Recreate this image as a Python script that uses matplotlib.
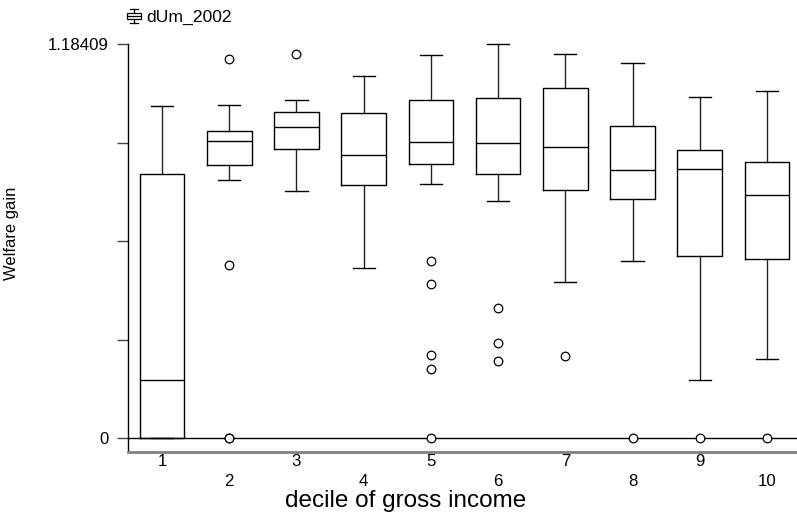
import matplotlib
matplotlib.use('Agg')
import numpy as np
import matplotlib.pyplot as plt
from matplotlib.legend_handler import HandlerBase
from matplotlib.lines import Line2D
from matplotlib.patches import Rectangle, Patch

plt.rcParams['font.family'] = ['Liberation Sans', 'DejaVu Sans']

# ---------------- data ----------------
deciles = ['1', '2', '3', '4', '5', '6', '7', '8', '9', '10']
whislo = [0.000, 0.777, 0.743, 0.511, 0.765, 0.712, 0.470, 0.533, 0.174, 0.238]
q1     = [0.000, 0.822, 0.870, 0.760, 0.825, 0.795, 0.747, 0.718, 0.546, 0.537]
med    = [0.176, 0.893, 0.934, 0.852, 0.889, 0.886, 0.874, 0.805, 0.809, 0.731]
q3     = [0.795, 0.922, 0.979, 0.976, 1.017, 1.023, 1.051, 0.937, 0.867, 0.829]
whishi = [0.997, 1.002, 1.017, 1.087, 1.150, 1.184, 1.154, 1.128, 1.024, 1.043]
fliers = [
    [],
    [1.139, 0.520, 0.0, 0.0],
    [1.153],
    [],
    [0.532, 0.464, 0.249, 0.209, 0.0],
    [0.392, 0.286, 0.233],
    [0.248],
    [0.0],
    [0.0],
    [0.0],
]
y_max = 1.18409
y_ticks = np.linspace(0, y_max, 5)
y_ticklabels = ['0', '', '', '', '1.18409']
series_name = 'dUm_2002'
x_title = 'decile of gross income'
y_title = 'Welfare gain'

# ---------------- figure ----------------
fig = plt.figure(figsize=(7.97, 5.21), dpi=100)
ax = fig.add_axes([128 / 797, 1 - 452 / 521, 1 - 128 / 797, (452 - 44) / 521])

positions = np.arange(1, len(deciles) + 1)
stats = []
for i, lab in enumerate(deciles):
    stats.append(dict(whislo=whislo[i], q1=q1[i], med=med[i], q3=q3[i],
                      whishi=whishi[i], fliers=fliers[i], label=lab))

ax.axhline(0, color='black', lw=1.0, zorder=1)

art = ax.bxp(stats, positions=positions, widths=0.664, capwidths=0.33,
             showfliers=True, manage_ticks=False,
             boxprops=dict(color='black', lw=1.0),
             whiskerprops=dict(color='#222222', lw=1.0),
             capprops=dict(color='black', lw=1.0),
             medianprops=dict(color='black', lw=1.0),
             flierprops=dict(marker='o', markerfacecolor='white',
                             markeredgecolor='black', markersize=6.2,
                             markeredgewidth=0.9))
for key in art:
    for a in art[key]:
        a.set_clip_on(False)
        a.set_zorder(3)

bottom_val = -(452 - 438.3) / 333.0
ax.set_ylim(bottom_val, y_max)
ax.set_xlim(0.494, 10.446)

ax.set_yticks(y_ticks)
ax.set_yticklabels(y_ticklabels)
ax.tick_params(axis='y', length=7.8, width=1.0, color='#444444',
               labelsize=12.1, pad=5.8)

ax.set_xticks(positions[::2])
ax.set_xticklabels(deciles[::2])
ax.set_xticks(positions[1::2], minor=True)
ax.set_xticklabels(deciles[1::2], minor=True)
ax.tick_params(axis='x', which='major', length=0, labelsize=12.1, pad=1.5)
ax.tick_params(axis='x', which='minor', length=0, labelsize=12.1, pad=15.8)

for s in ['top', 'right']:
    ax.spines[s].set_visible(False)
ax.spines['left'].set_color('black')
ax.spines['left'].set_linewidth(1.0)
ax.spines['bottom'].set_color('#808080')
ax.spines['bottom'].set_linewidth(2.0)

fig.text(406 / 797, 1 - 507.3 / 521, x_title, ha='center', va='baseline',
         fontsize=17.5)
fig.text(12 / 797, 1 - 233.5 / 521, y_title, rotation=90, ha='center',
         va='center', fontsize=11.9)


class BoxHandler(HandlerBase):
    def create_artists(self, legend, orig_handle, xdescent, ydescent,
                       width, height, fontsize, trans):
        cx = -xdescent + width / 2
        top = -ydescent + height * 1.1
        bot = -ydescent - height * 0.1
        h = top - bot
        bw = width * 0.95
        cw = width * 0.6
        arts = [
            Line2D([cx - cw / 2, cx + cw / 2], [top, top]),
            Line2D([cx, cx], [top, bot + h * 0.72]),
            Rectangle((cx - bw / 2, bot + h * 0.28), bw, h * 0.44,
                      facecolor='white', edgecolor='black', lw=0.9),
            Line2D([cx - bw / 2, cx + bw / 2], [bot + h * 0.5, bot + h * 0.5]),
            Line2D([cx, cx], [bot + h * 0.28, bot]),
            Line2D([cx - cw / 2, cx + cw / 2], [bot, bot]),
        ]
        for a in arts:
            if isinstance(a, Line2D):
                a.set_color('black')
                a.set_linewidth(0.9)
            a.set_transform(trans)
        return arts


fig.legend(handles=[Patch()], labels=[series_name],
           handler_map={Patch: BoxHandler()}, loc='center left',
           bbox_to_anchor=(127 / 797, 1 - 17.5 / 521), frameon=False,
           handlelength=0.8, handletextpad=0.3, borderaxespad=0,
           borderpad=0, fontsize=12.6)

fig.savefig('out.png', dpi=100)
